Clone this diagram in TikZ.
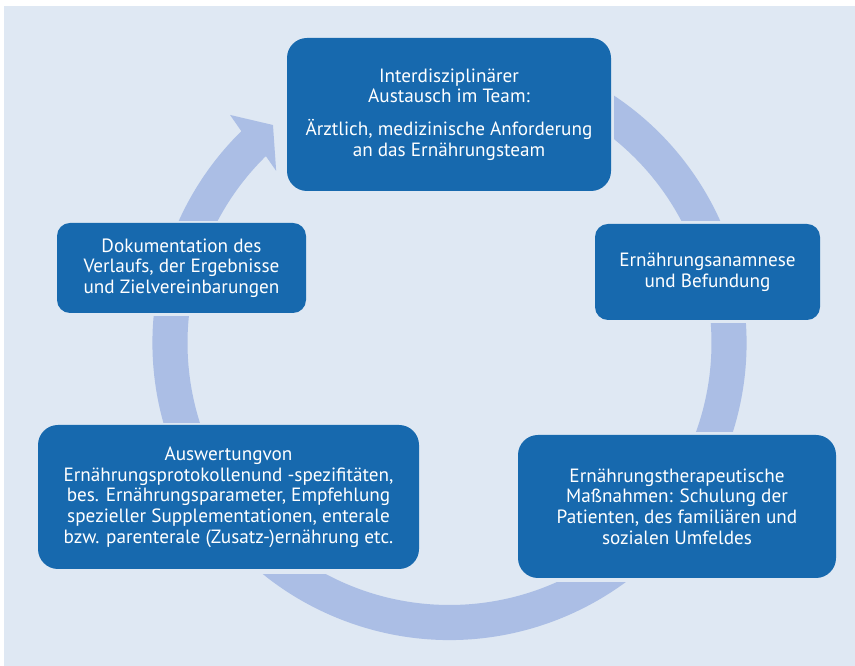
\documentclass[tikz,border=0pt]{standalone}
\usepackage{fontspec}
\setmainfont{PT Sans}
\definecolor{bgblue}{HTML}{DFE8F3}
\definecolor{boxblue}{HTML}{1769AE}
\definecolor{ringblue}{HTML}{ABBEE5}
\begin{document}
\begin{tikzpicture}[x=1pt,y=1pt,
  box/.style={rectangle, rounded corners=#1, fill=boxblue, text=white, align=center,
    inner sep=0pt, font=\fontsize{19.2}{20.7}\selectfont},
  cover/.style={fill=bgblue, draw=none}]
\useasboundingbox (0,0) rectangle (855,666);
\fill[white] (0,0) rectangle (855,666);
\fill[bgblue] (4,0) rectangle (855,660);
% cycle arrow
\begin{scope}[shift={(449.5,323)}]
\fill[ringblue] (70:297pt) arc[start angle=70, end angle=-225.5, radius=297pt]
  -- (-226.1:316.5pt) -- (-231:280.5pt) -- (-224.8:244.3pt) -- (-225.5:262pt)
  arc[start angle=-225.5, end angle=70, radius=262pt] -- cycle;
\end{scope}
% gaps round the boxes
\fill[cover] (284,472) rectangle (614,631);
\fill[cover] (592,343) rectangle (823,445);
\fill[cover] (515,84) rectangle (839,234);
\fill[cover] (35,92) rectangle (422,243);
\fill[cover] (54,350) rectangle (309,445);
% boxes
\node[box=20pt, minimum width=324pt, minimum height=153pt] (team) at (449,551.5)
  {Interdisziplinärer\\Austausch im Team:\\[12pt]Ärztlich, medizinische Anforderung\\an das Ernährungsteam};
\node[box=13pt, minimum width=225pt, minimum height=96pt] (anam) at (707.5,394)
  {Ernährungsanamnese\\und Befundung};
\node[box=20pt, minimum width=318pt, minimum height=143pt] (ther) at (677,159.5)
  {Ernährungstherapeutische\\Maßnahmen: Schulung der\\Patienten, des familiären und\\sozialen Umfeldes};
\node[box=20pt, minimum width=381pt, minimum height=144pt] (ausw) at (228.5,169)
  {Auswertungvon\\Ernährungsprotokollenund -spezifitäten,\\bes. Ernährungsparameter, Empfehlung\\spezieller Supplementationen, enterale\\bzw. parenterale (Zusatz-)ernährung etc.};
\node[box=13pt, minimum width=249pt, minimum height=90pt] (doku) at (181.5,398)
  {Dokumentation des\\Verlaufs, der Ergebnisse\\und Zielvereinbarungen};
\end{tikzpicture}
\end{document}
